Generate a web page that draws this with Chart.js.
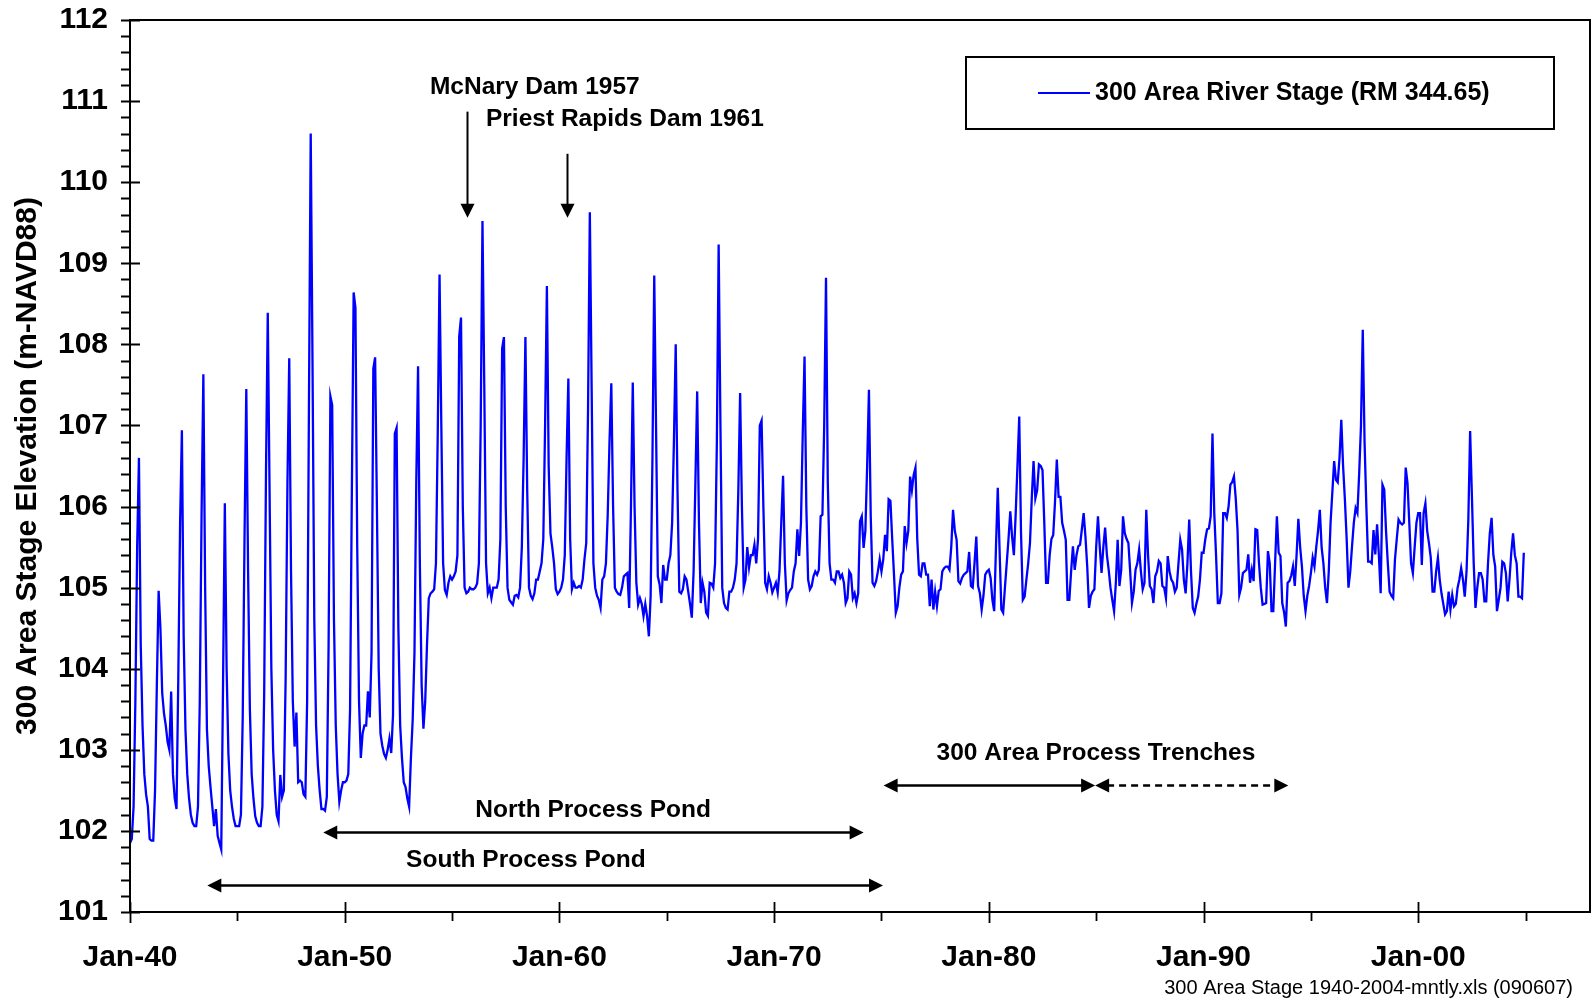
<!DOCTYPE html>
<html>
<head>
<meta charset="utf-8">
<title>300 Area River Stage</title>
<script src="https://cdn.jsdelivr.net/npm/chart.js@4.4.1/dist/chart.umd.min.js"></script>
<style>
  html, body { margin: 0; padding: 0; background: #fff; }
  canvas { display: block; }
</style>
</head>
<body>
<canvas id="stage" width="1593" height="1005"></canvas>
<script>
// Monthly river stage at the 300 Area (m NAVD88), one row per year, Jan..Dec
const stage1940s = [
  101.85, 101.9, 102.3, 103.6, 105.5, 106.6, 104.3, 103.3, 102.7, 102.45, 102.3, 101.9,      // 1940
  101.88, 101.88, 102.5, 103.8, 104.96, 104.5, 103.7, 103.45, 103.3, 103.1, 103.0, 103.72,  // 1941
  102.7, 102.4, 102.27, 103.9, 105.8, 106.94, 104.4, 103.25, 102.7, 102.4, 102.2, 102.1,    // 1942
  102.06, 102.06, 102.3, 103.6, 105.9, 107.63, 105.0, 103.25, 102.8, 102.54, 102.3, 102.06, // 1943
  102.27, 101.94, 101.85, 101.77, 103.8, 106.04, 104.0, 102.95, 102.5, 102.3, 102.15, 102.06, // 1944
  102.06, 102.06, 102.2, 103.4, 105.6, 107.45, 105.2, 103.5, 102.7, 102.4, 102.18, 102.1,   // 1945
  102.06, 102.06, 102.3, 103.7, 106.4, 108.39, 106.2, 104.0, 103.0, 102.5, 102.2, 102.12,   // 1946
  102.69, 102.42, 102.5, 103.9, 106.3, 107.83, 105.2, 103.6, 103.04, 103.46, 102.6, 102.62, // 1947
  102.6, 102.45, 102.42, 103.6, 107.2, 110.6, 107.8, 104.6, 103.3, 102.8, 102.5, 102.27,    // 1948
  102.27, 102.25, 102.42, 104.3, 107.36, 107.25, 104.6, 103.3, 102.7, 102.36, 102.5, 102.6  // 1949
];
const stage1950s = [
  102.6, 102.62, 102.7, 103.5, 106.2, 108.64, 108.45, 105.5, 103.6, 102.9, 103.2, 103.3,    // 1950
  103.3, 103.72, 103.4, 104.2, 107.7, 107.84, 106.0, 104.0, 103.2, 103.05, 102.95, 102.9,   // 1951
  103.0, 103.14, 102.96, 103.43, 106.9, 106.97, 104.5, 103.3, 102.9, 102.6, 102.54, 102.4,  // 1952
  102.3, 102.9, 103.37, 104.2, 106.3, 107.73, 105.3, 103.8, 103.26, 103.6, 104.3, 104.87,   // 1953
  104.93, 104.95, 104.98, 105.3, 106.9, 108.86, 107.0, 105.3, 104.97, 104.91, 105.06, 105.14, // 1954
  105.1, 105.14, 105.2, 105.4, 108.1, 108.33, 106.0, 105.0, 104.93, 104.95, 105.0, 104.98,  // 1955
  104.98, 105.0, 105.05, 105.3, 107.0, 109.52, 107.5, 105.3, 104.93, 105.0, 104.87, 105.0,  // 1956
  105.0, 105.0, 105.1, 105.6, 107.95, 108.09, 106.0, 105.0, 104.85, 104.82, 104.79, 104.9,  // 1957
  104.91, 104.88, 105.0, 105.5, 106.6, 108.09, 106.2, 105.0, 104.9, 104.86, 104.93, 105.1,  // 1958
  105.1, 105.2, 105.3, 105.6, 107.0, 108.72, 106.5, 105.67, 105.5, 105.3, 104.98, 104.92    // 1959
];
const stage1960s = [
  104.95, 105.0, 105.1, 105.4, 106.6, 107.58, 105.6, 104.98, 105.06, 105.0, 105.0, 105.02,  // 1960
  105.0, 105.1, 105.35, 105.55, 107.2, 109.63, 107.5, 105.3, 105.0, 104.9, 104.85, 104.75,  // 1961
  105.1, 105.14, 105.3, 105.9, 106.8, 107.52, 106.0, 105.0, 104.95, 104.92, 104.91, 105.0,  // 1962
  105.14, 105.16, 105.18, 104.75, 106.0, 107.53, 106.0, 105.06, 104.79, 104.87, 104.8, 104.65, // 1963
  104.8, 104.65, 104.4, 104.9, 106.6, 108.85, 107.0, 105.14, 105.04, 104.81, 105.28, 105.1, // 1964
  105.1, 105.3, 105.4, 105.8, 106.8, 108.0, 106.2, 104.95, 104.93, 104.98, 105.14, 105.1,   // 1965
  104.95, 104.8, 104.63, 105.2, 106.3, 107.42, 105.8, 104.81, 105.06, 104.95, 104.69, 104.65, // 1966
  105.06, 105.05, 105.0, 105.3, 106.8, 109.23, 107.0, 105.0, 104.81, 104.75, 104.73, 104.95, // 1967
  104.95, 105.0, 105.1, 105.3, 106.2, 107.4, 106.0, 105.0, 105.1, 105.5, 105.25, 105.4,     // 1968
  105.4, 105.53, 105.3, 105.6, 107.0, 107.06, 106.0, 105.06, 104.98, 105.14, 105.06, 104.94 // 1969
];
const stage1970s = [
  105.0, 105.06, 104.94, 105.2, 105.8, 106.38, 105.3, 104.84, 104.93, 104.97, 105.0, 105.2, // 1970
  105.3, 105.72, 105.39, 105.8, 106.9, 107.85, 106.0, 105.1, 104.98, 105.02, 105.14, 105.2, // 1971
  105.16, 105.22, 105.88, 105.9, 107.0, 108.82, 106.3, 105.3, 105.1, 105.1, 105.06, 105.2,  // 1972
  105.2, 105.12, 105.16, 105.06, 104.81, 104.87, 105.2, 105.16, 104.87, 104.93, 104.81, 104.93, // 1973
  105.82, 105.88, 105.49, 105.7, 106.5, 107.44, 105.88, 105.06, 105.02, 105.08, 105.2, 105.35, // 1974
  105.2, 105.35, 105.65, 105.45, 106.09, 106.07, 105.6, 105.16, 104.69, 104.77, 105.0, 105.16, // 1975
  105.2, 105.76, 105.55, 105.7, 106.37, 106.2, 106.39, 106.48, 105.6, 105.16, 105.14, 105.3, // 1976
  105.3, 105.16, 105.16, 104.77, 105.1, 104.73, 104.95, 104.77, 104.96, 104.98, 105.2, 105.24, // 1977
  105.26, 105.26, 105.22, 105.5, 105.96, 105.7, 105.59, 105.08, 105.05, 105.12, 105.16, 105.18, // 1978
  105.2, 105.44, 105.02, 105.0, 105.3, 105.63, 105.02, 104.93, 104.73, 104.9, 105.16, 105.2   // 1979
];
const stage1980s = [
  105.22, 105.12, 104.85, 104.71, 105.5, 106.23, 105.47, 104.73, 104.69, 105.0, 105.3, 105.6, // 1980
  105.94, 105.63, 105.4, 105.9, 106.5, 107.11, 105.67, 104.85, 104.89, 105.1, 105.3, 105.55, // 1981
  106.1, 106.56, 106.1, 106.2, 106.52, 106.5, 106.45, 105.8, 105.06, 105.06, 105.4, 105.6,  // 1982
  105.65, 106.06, 106.58, 106.12, 106.12, 105.8, 105.7, 105.59, 104.85, 104.85, 105.2, 105.51, // 1983
  105.22, 105.4, 105.51, 105.53, 105.72, 105.92, 105.63, 105.26, 104.75, 104.9, 104.95, 104.98, // 1984
  105.5, 105.88, 105.5, 105.18, 105.5, 105.74, 105.4, 105.22, 105.0, 104.85, 104.71, 105.06, // 1985
  105.59, 105.02, 105.22, 105.88, 105.67, 105.6, 105.55, 105.2, 104.81, 104.95, 105.22, 105.3, // 1986
  105.47, 105.2, 104.98, 105.06, 105.96, 105.4, 105.02, 104.98, 104.81, 105.14, 105.2, 105.33, // 1987
  105.3, 105.02, 105.0, 104.87, 105.39, 105.2, 105.1, 105.06, 104.95, 105.0, 105.3, 105.59,  // 1988
  105.47, 105.1, 104.93, 105.3, 105.84, 105.2, 104.75, 104.69, 104.8, 104.89, 105.1, 105.43  // 1989
];
const stage1990s = [
  105.43, 105.6, 105.72, 105.73, 105.88, 106.9, 105.92, 105.4, 104.81, 104.81, 104.93, 105.92, // 1990
  105.92, 105.86, 106.0, 106.27, 106.3, 106.37, 106.1, 105.71, 104.91, 105.0, 105.18, 105.2, // 1991
  105.22, 105.41, 105.06, 105.22, 105.08, 105.72, 105.71, 105.3, 105.0, 104.79, 104.8, 104.81, // 1992
  105.45, 105.3, 104.71, 104.71, 105.3, 105.88, 105.43, 105.39, 104.81, 104.7, 104.52, 105.06, // 1993
  105.08, 105.15, 105.26, 105.02, 105.4, 105.85, 105.5, 105.26, 104.9, 104.71, 104.9, 105.02, // 1994
  105.18, 105.37, 105.26, 105.5, 105.7, 105.96, 105.5, 105.3, 105.0, 104.81, 105.2, 105.8,   // 1995
  106.18, 106.56, 106.33, 106.3, 106.6, 107.07, 106.5, 106.09, 105.6, 105.0, 105.2, 105.51, // 1996
  105.8, 105.98, 105.92, 106.41, 107.0, 108.18, 106.8, 106.0, 105.32, 105.32, 105.3, 105.71, // 1997
  105.41, 105.78, 105.4, 104.93, 106.27, 106.21, 105.7, 105.3, 104.95, 104.9, 104.87, 105.35, // 1998
  105.6, 105.84, 105.8, 105.78, 105.8, 106.48, 106.29, 105.8, 105.3, 105.18, 105.5, 105.8    // 1999
];
const stage2000s = [
  105.92, 105.92, 105.28, 105.92, 106.04, 105.7, 105.55, 105.37, 104.95, 104.95, 105.2, 105.37, // 2000
  105.1, 104.93, 104.8, 104.67, 104.71, 104.95, 104.73, 104.91, 104.77, 104.8, 105.0, 105.1,  // 2001
  105.24, 105.1, 104.89, 105.2, 105.84, 106.93, 106.13, 105.3, 104.75, 105.0, 105.18, 105.18, // 2002
  105.1, 104.83, 104.83, 105.3, 105.67, 105.86, 105.4, 105.26, 104.71, 104.85, 105.0, 105.32, // 2003
  105.3, 105.18, 104.83, 105.1, 105.43, 105.67, 105.4, 105.3, 104.89, 104.89, 104.87, 105.43  // 2004
];

const firstYear = 1940;
const xMin = 1940, xMax = 2008;
const yMin = 101, yMax = 112;
const seriesLabel = '300 Area River Stage (RM 344.65)';
const yTitle = '300 Area Stage Elevation (m-NAVD88)';
const sourceNote = '300 Area Stage 1940-2004-mntly.xls (090607)';

// text notes and arrows, placed in axis units (decimal year, elevation)
const notes = [
  { text: 'McNary Dam 1957', x: 1953.97, y: 111.17, align: 'left' },
  { text: 'Priest Rapids Dam 1961', x: 1956.58, y: 110.77, align: 'left' },
  { text: 'North Process Pond', x: 1961.57, y: 102.25, align: 'center' },
  { text: 'South Process Pond', x: 1958.44, y: 101.64, align: 'center' },
  { text: '300 Area Process Trenches', x: 1984.99, y: 102.96, align: 'center' }
];
const dropArrows = [
  { x: 1955.7, from: 110.87, to: 109.56 },
  { x: 1960.35, from: 110.35, to: 109.56 }
];
const spanArrows = [
  { y: 101.99, from: 1949.0, to: 1974.17, dashed: false },
  { y: 101.33, from: 1943.6, to: 1975.07, dashed: false },
  { y: 102.56, from: 1975.1, to: 1984.95, dashed: false },
  { y: 102.56, from: 1984.95, to: 1993.95, dashed: true }
];

const stage = [].concat(stage1940s, stage1950s, stage1960s, stage1970s, stage1980s, stage1990s, stage2000s);
const points = stage.map((v, i) => ({ x: firstYear + i / 12, y: v }));

const FAMILY = "'Liberation Sans', Arial, Helvetica, sans-serif";
const font = (size, bold) => (bold ? 'bold ' : '') + size + 'px ' + FAMILY;

function arrowHead(ctx, tx, ty, dir) {
  const len = 14, half = 7;
  ctx.beginPath();
  ctx.moveTo(tx, ty);
  if (dir === 'down') {
    ctx.lineTo(tx - half, ty - len);
    ctx.lineTo(tx + half, ty - len);
  } else if (dir === 'left') {
    ctx.lineTo(tx + len, ty - half);
    ctx.lineTo(tx + len, ty + half);
  } else {
    ctx.lineTo(tx - len, ty - half);
    ctx.lineTo(tx - len, ty + half);
  }
  ctx.closePath();
  ctx.fill();
}

const decorations = {
  id: 'decorations',
  afterDatasetsDraw(chart) {
    const { ctx, chartArea: a, scales: { x, y } } = chart;
    ctx.save();
    ctx.strokeStyle = '#000';
    ctx.fillStyle = '#000';

    // plot frame
    ctx.lineWidth = 2;
    ctx.strokeRect(a.left, a.top, a.right - a.left, a.bottom - a.top);

    // y ticks: majors cross the axis, minors every 0.2 outside only
    ctx.lineWidth = 1.8;
    ctx.beginPath();
    for (let k = 0; k <= (yMax - yMin) * 5; k++) {
      const py = Math.round(y.getPixelForValue(yMin + k * 0.2)) + 0.5;
      const major = k % 5 === 0;
      ctx.moveTo(a.left - 9, py);
      ctx.lineTo(a.left + (major ? 10 : 0), py);
    }
    // x ticks every 5 years, labelled decades cross the axis
    for (let yr = xMin; yr <= xMax - 1; yr += 5) {
      const px = Math.round(x.getPixelForValue(yr)) + 0.5;
      const major = yr % 10 === 0;
      ctx.moveTo(px, a.bottom - (major ? 10 : 0));
      ctx.lineTo(px, a.bottom + (major ? 11 : 9));
    }
    ctx.stroke();

    // y axis title
    ctx.save();
    ctx.translate(28, (a.top + a.bottom) / 2);
    ctx.rotate(-Math.PI / 2);
    ctx.font = font(30, true);
    ctx.textAlign = 'center';
    ctx.textBaseline = 'middle';
    ctx.fillText(yTitle, 0, 0);
    ctx.restore();

    // legend box
    const lg = { left: 966, top: 57, right: 1554, bottom: 129 };
    const ly = (lg.top + lg.bottom) / 2;
    ctx.lineWidth = 2;
    ctx.strokeRect(lg.left, lg.top, lg.right - lg.left, lg.bottom - lg.top);
    ctx.strokeStyle = chart.data.datasets[0].borderColor;
    ctx.beginPath();
    ctx.moveTo(1038, ly);
    ctx.lineTo(1090, ly);
    ctx.stroke();
    ctx.strokeStyle = '#000';
    ctx.font = font(25, true);
    ctx.textAlign = 'left';
    ctx.textBaseline = 'middle';
    ctx.fillText(chart.data.datasets[0].label, 1095, ly);

    // notes
    ctx.font = font(24.5, true);
    notes.forEach(n => {
      ctx.textAlign = n.align;
      ctx.fillText(n.text, x.getPixelForValue(n.x), y.getPixelForValue(n.y));
    });

    // dam arrows
    ctx.lineWidth = 2;
    dropArrows.forEach(d => {
      const px = Math.round(x.getPixelForValue(d.x)) + 0.5;
      const top = y.getPixelForValue(d.from);
      const tip = y.getPixelForValue(d.to);
      ctx.beginPath();
      ctx.moveTo(px, top);
      ctx.lineTo(px, tip - 12);
      ctx.stroke();
      arrowHead(ctx, px, tip, 'down');
    });

    // period arrows
    ctx.lineWidth = 2.5;
    spanArrows.forEach(s => {
      const py = Math.round(y.getPixelForValue(s.y)) + 0.5;
      const x0 = x.getPixelForValue(s.from);
      const x1 = x.getPixelForValue(s.to);
      ctx.setLineDash(s.dashed ? [7, 5] : []);
      ctx.beginPath();
      ctx.moveTo(x0 + 12, py);
      ctx.lineTo(x1 - 12, py);
      ctx.stroke();
      ctx.setLineDash([]);
      arrowHead(ctx, x0, py, 'left');
      arrowHead(ctx, x1, py, 'right');
    });

    // source file note
    ctx.font = font(20, false);
    ctx.textAlign = 'right';
    ctx.textBaseline = 'middle';
    ctx.fillText(sourceNote, 1573, 988);

    ctx.restore();
  }
};

const tickFont = { family: FAMILY, size: 30, weight: 'bold' };

// keep the plot box fixed: no extra room for overhanging tick labels
const fixX = s => { s.height = 93; s.paddingLeft = 0; s.paddingRight = 0; };
const fixY = s => { s.width = 130; s.paddingTop = 0; s.paddingBottom = 0; };

new Chart(document.getElementById('stage'), {
  type: 'line',
  data: {
    datasets: [{
      label: seriesLabel,
      data: points,
      borderColor: '#0000ff',
      borderWidth: 2.3,
      pointRadius: 0,
      tension: 0,
      fill: false
    }]
  },
  options: {
    responsive: false,
    animation: false,
    layout: { padding: { top: 20, right: 3, left: 0, bottom: 0 } },
    scales: {
      x: {
        type: 'linear',
        min: xMin,
        max: xMax,
        grid: { display: false, drawTicks: false },
        border: { display: false },
        ticks: {
          stepSize: 10,
          autoSkip: false,
          maxRotation: 0,
          padding: 28,
          color: '#000',
          font: tickFont,
          callback: v => (v % 10 === 0 ? 'Jan-' + String(v % 100).padStart(2, '0') : '')
        },
        afterFit: fixX
      },
      y: {
        min: yMin,
        max: yMax,
        grid: { display: false, drawTicks: false },
        border: { display: false },
        ticks: {
          stepSize: 1,
          padding: 22,
          color: '#000',
          font: tickFont,
          callback: v => String(v)
        },
        afterFit: fixY
      }
    },
    plugins: {
      legend: { display: false },
      tooltip: { enabled: false }
    }
  },
  plugins: [decorations]
});
</script>
</body>
</html>
